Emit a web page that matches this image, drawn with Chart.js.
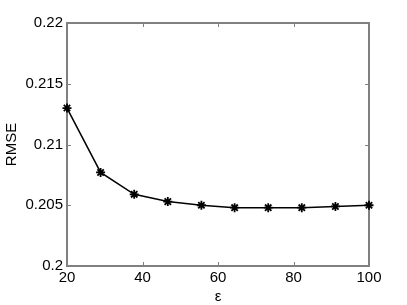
<!DOCTYPE html>
<html>
<head>
<meta charset="utf-8">
<script src="https://cdn.jsdelivr.net/npm/chart.js@4/dist/chart.umd.min.js"></script>
<style>
  html, body { margin: 0; padding: 0; background: #fff; }
  #wrap { width: 407px; height: 305px; }
</style>
</head>
<body>
<div id="wrap"><canvas id="rmseChart" width="407" height="305"></canvas></div>
<script>
// values
const epsilon = [20, 28.9, 37.8, 46.7, 55.6, 64.4, 73.3, 82.2, 91.1, 100]
const rmse = [0.2130, 0.2077, 0.2059, 0.2053, 0.2050, 0.2048, 0.2048, 0.2048, 0.2049, 0.2050]
const xTicks = [20, 40, 60, 80, 100]
const yTicks = [0.2, 0.205, 0.21, 0.215, 0.22]

const FONT = { family: "'Liberation Sans', Arial, sans-serif", size: 15 }
const AXIS_GRAY = "#808080"

// matlab style box with ticks pointing inwards
const boxPlugin = {
  id: "box",
  beforeDatasetsDraw(chart) {
    const { ctx, chartArea: a, scales } = chart
    ctx.save()
    ctx.strokeStyle = AXIS_GRAY
    ctx.lineWidth = 1
    ctx.beginPath()
    scales.x.ticks.forEach(t => {
      const px = Math.round(scales.x.getPixelForValue(t.value)) + 0.5
      ctx.moveTo(px, a.bottom); ctx.lineTo(px, a.bottom - 4)
      ctx.moveTo(px, a.top); ctx.lineTo(px, a.top + 4)
    })
    scales.y.ticks.forEach(t => {
      const py = Math.round(scales.y.getPixelForValue(t.value)) + 0.5
      ctx.moveTo(a.left, py); ctx.lineTo(a.left + 4, py)
      ctx.moveTo(a.right, py); ctx.lineTo(a.right - 4, py)
    })
    ctx.stroke()
    ctx.lineWidth = 2
    ctx.strokeRect(a.left, a.top, a.right - a.left, a.bottom - a.top)
    ctx.restore()
  }
}

new Chart(document.getElementById("rmseChart"), {
  type: "scatter",
  data: {
    datasets: [{
      data: epsilon.map((x, i) => ({ x: x, y: rmse[i] })),
      showLine: true,
      borderColor: "#000",
      borderWidth: 1.5,
      tension: 0,
      pointStyle: "star",
      pointRadius: 4.5,
      pointBorderWidth: 1.8,
      pointBorderColor: "#000",
      pointBackgroundColor: "#000",
      clip: false
    }]
  },
  options: {
    responsive: false,
    animation: false,
    layout: { padding: { top: 23, right: 38, left: 0, bottom: 0 } },
    plugins: { legend: { display: false }, tooltip: { enabled: false } },
    scales: {
      x: {
        type: "linear",
        min: 20,
        max: 100,
        afterBuildTicks: s => { s.ticks = xTicks.map(v => ({ value: v })) },
        afterFit: s => { s.height = 39 },
        grid: { display: false, drawTicks: false },
        border: { display: false },
        ticks: { color: "#000", font: FONT, padding: 3, maxRotation: 0, callback: v => String(v) },
        title: { display: true, text: "ε", color: "#000", font: { ...FONT, lineHeight: 1.1 }, padding: { top: 0, bottom: 0 } }
      },
      y: {
        type: "linear",
        min: 0.2,
        max: 0.22,
        afterBuildTicks: s => { s.ticks = yTicks.map(v => ({ value: v })) },
        afterFit: s => { s.width = 67 },
        grid: { display: false, drawTicks: false },
        border: { display: false },
        ticks: { color: "#000", font: FONT, padding: 4, callback: v => String(+v.toFixed(3)) },
        title: { display: true, text: "RMSE", color: "#000", font: FONT, padding: { top: 3, bottom: 0 } }
      }
    }
  },
  plugins: [boxPlugin]
})
</script>
</body>
</html>
